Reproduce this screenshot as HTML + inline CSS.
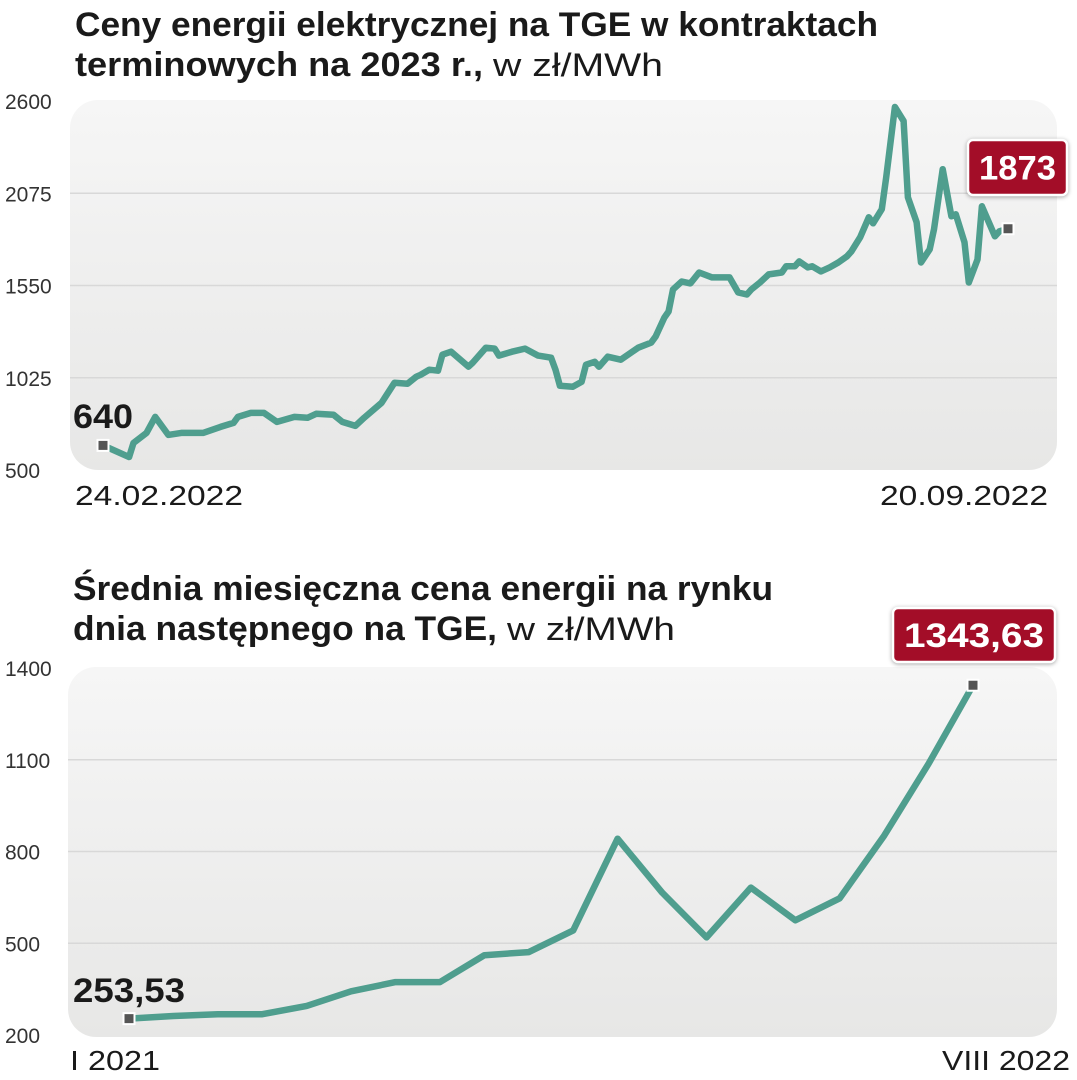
<!DOCTYPE html>
<html><head><meta charset="utf-8"><style>
html,body{margin:0;padding:0;background:#fff}
svg{display:block}
text{font-family:"Liberation Sans",sans-serif}
</style></head><body>
<svg id="chart" width="1077" height="1080" viewBox="0 0 1077 1080">
<defs>
<linearGradient id="bg" x1="0" y1="0" x2="0" y2="1"><stop offset="0" stop-color="#f6f6f6"/><stop offset="1" stop-color="#e7e7e6"/></linearGradient>
</defs>
<g>
<text x="75" y="36" font-size="34" font-weight="bold" fill="#1a1a1a" textLength="803" lengthAdjust="spacingAndGlyphs">Ceny energii elektrycznej na TGE w kontraktach</text>
<text x="75" y="76" font-size="34" font-weight="bold" fill="#1a1a1a" textLength="408" lengthAdjust="spacingAndGlyphs">terminowych na 2023 r.,</text>
<text x="493" y="76" font-size="32" fill="#1a1a1a" textLength="170" lengthAdjust="spacingAndGlyphs">w zł/MWh</text>
</g>
<g>
<text x="73" y="600" font-size="34" font-weight="bold" fill="#1a1a1a" textLength="700" lengthAdjust="spacingAndGlyphs">Średnia miesięczna cena energii na rynku</text>
<text x="73" y="640" font-size="34" font-weight="bold" fill="#1a1a1a" textLength="424" lengthAdjust="spacingAndGlyphs">dnia następnego na TGE,</text>
<text x="507" y="640" font-size="32" fill="#1a1a1a" textLength="168" lengthAdjust="spacingAndGlyphs">w zł/MWh</text>
</g>
<rect x="70" y="100" width="987" height="370" rx="28" fill="url(#bg)"/>
<rect x="68" y="667" width="989" height="370" rx="28" fill="url(#bg)"/>
<g id="topchart"></g>
<g id="botchart"></g>
</svg>
<script>
// Top chart data: day offset from 24.02.2022, price zł/MWh
const topDays = [0,6,7,10,12,15,18,23,27,30,31,34,37,40,44,47,49,53,55,58,60,64,67,70,72,73,75,77,78,80,84,85,88,90,91,94,97,100,103,104,105,108,110,111,113,114,116,119,123,126,127,129,130,131,133,135,137,140,144,146,148,149,151,153,156,157,159,160,162,163,165,167,169,171,172,174,176,177,179,180,182,184,185,187,188,190,191,193,195,196,198,199,201,202,205,206,208];
const topValues = [640,574,654,711,802,700,711,711,745,768,802,825,825,774,802,797,820,814,774,751,797,882,997,991,1031,1042,1071,1065,1156,1173,1088,1111,1196,1191,1151,1173,1191,1151,1139,1071,979,974,1002,1099,1116,1088,1145,1128,1196,1225,1259,1367,1402,1527,1573,1562,1624,1596,1596,1510,1499,1527,1567,1613,1624,1659,1659,1687,1653,1659,1630,1653,1681,1716,1744,1824,1938,1904,1984,2166,2566,2486,2052,1910,1681,1756,1870,2212,1944,1955,1796,1567,1698,2001,1830,1858,1873];
const topTicks = [2600,2075,1550,1025,500];
const topXLabels = ["24.02.2022","20.09.2022"];
// Bottom chart data: monthly averages I 2021 – VIII 2022
const botMonths = ["I 2021","II","III","IV","V","VI","VII","VIII","IX","X","XI","XII","I 2022","II","III","IV","V","VI","VII","VIII 2022"];
const botValues = [253.53,262,268,268,295,343,373,373,461,471,542,842,666,519,682,575,647,852,1087,1343.63];
const botTicks = [1400,1100,800,500,200];
const botXLabels = ["I 2021","VIII 2022"];

const NS="http://www.w3.org/2000/svg";
function mk(parent,tag,attrs,txt){const e=document.createElementNS(NS,tag);for(const k in attrs)e.setAttribute(k,attrs[k]);if(txt!==undefined)e.textContent=txt;parent.appendChild(e);return e;}

function drawChart(g,cfg){
  const {xs,ys,ticks,x0,x1,y0,y1,vmin,vmax,gx0,gx1,xmax}=cfg;
  const X=d=>x0+(d/xmax)*(x1-x0);
  const Y=v=>y1-(v-vmin)/(vmax-vmin)*(y1-y0);
  ticks.forEach((t,i)=>{
    const y=Y(t);
    if(i>0&&i<ticks.length-1){
      const l=mk(g,'line',{x1:gx0,x2:gx1,y1:y,y2:y,stroke:'#d8d8d8','stroke-width':1.5});
      
      
    }
    const tx=mk(g,'text',{x:5,y:y+8,'font-size':21,fill:'#333'},String(t));
    
    
  });
  const pts=xs.map((d,i)=>X(d).toFixed(1)+','+Y(ys[i]).toFixed(1)).join(' ');
  const pl=mk(g,'polyline',{points:pts,fill:'none',stroke:'#4f9e8e','stroke-width':6.5,'stroke-linejoin':'round','stroke-linecap':'round'});
  
  
  const ends=[[xs[0],ys[0]],[xs[xs.length-1],ys[ys.length-1]]];
  ends.forEach(p=>{
    const r=mk(g,'rect',{x:X(p[0])-5.5,y:Y(p[1])-5.5,width:11,height:11,fill:'#555',stroke:'#fff','stroke-width':2});
    
    
  });
  return {X,Y};
}

const topG=document.getElementById('topchart');
drawChart(topG,{xs:topDays,ys:topValues,ticks:topTicks,x0:103,x1:1008,y0:101,y1:470,vmin:500,vmax:2600,gx0:70,gx1:1057,xmax:topDays[topDays.length-1]});
const botG=document.getElementById('botchart');
const bIdx=botValues.map((v,i)=>i);
drawChart(botG,{xs:bIdx,ys:botValues,ticks:botTicks,x0:129,x1:973,y0:668,y1:1035,vmin:200,vmax:1400,gx0:68,gx1:1057,xmax:botValues.length-1});

function label(g,x,y,txt,w,name){
  const t=mk(g,'text',{x:x,y:y,'font-size':34,'font-weight':'bold',fill:'#1a1a1a',textLength:w,lengthAdjust:'spacingAndGlyphs'},txt);
  
  
}
function badge(g,x,y,w,h,txt,name){
  const r=mk(g,'rect',{x:x,y:y,width:w,height:h,rx:5,fill:'#a30d28',stroke:'#fff','stroke-width':2.5,style:'filter:drop-shadow(0 1px 2px rgba(0,0,0,.35))'});
  
  
  const t=mk(g,'text',{x:x+w/2,y:y+h/2+12,'font-size':34,'font-weight':'bold',fill:'#fff','text-anchor':'middle',textLength:w-22,lengthAdjust:'spacingAndGlyphs'},txt);
  
  
}
label(topG,73,428,String(topValues[0]),60,'start-value-label');
badge(topG,968,140,99,55,String(topValues[topValues.length-1]),'end-value-label');
label(botG,73,1002,botValues[0].toFixed(2).replace('.',','),112,'start-value-label');
badge(botG,893,608,162,54,botValues[botValues.length-1].toFixed(2).replace('.',','),'end-value-label');

function xl(g,x,y,txt,anchor,w,name){
  const t=mk(g,'text',{x:x,y:y,'font-size':28,fill:'#1a1a1a','text-anchor':anchor,textLength:w,lengthAdjust:'spacingAndGlyphs'},txt);
  
  
}
xl(topG,75,505,topXLabels[0],'start',168,'x-label-start');
xl(topG,1048,505,topXLabels[1],'end',168,'x-label-end');
xl(botG,70,1070,botXLabels[0],'start',90,'x-label-start');
xl(botG,1070,1070,botXLabels[1],'end',128,'x-label-end');
</script>
</body></html>
